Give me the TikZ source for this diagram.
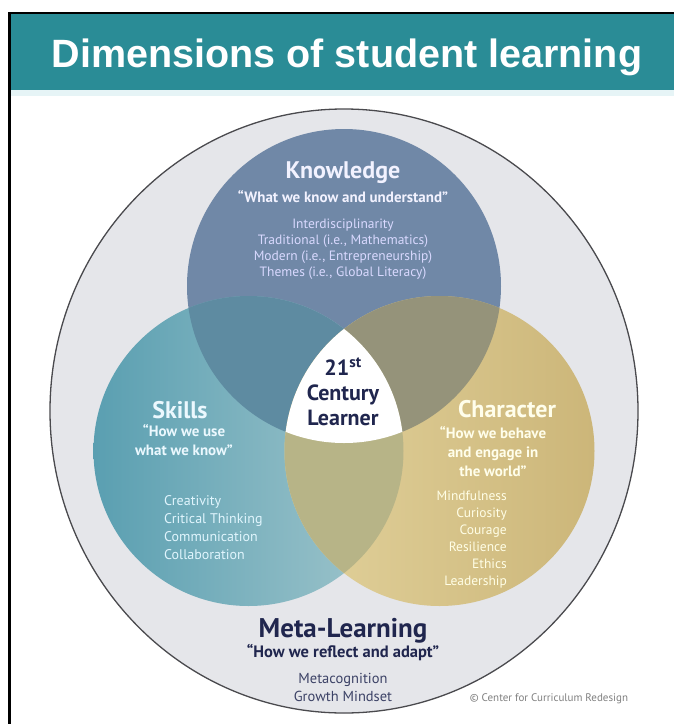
\documentclass[tikz,border=0pt]{standalone}
\usepackage{fontspec}
\setmainfont{PT Sans}
\newfontfamily\titlefont{Liberation Sans}
\usepackage{xcolor}

\definecolor{banner}{HTML}{2A8C96}
\definecolor{bannerlight}{HTML}{E6F4F6}
\definecolor{metafill}{HTML}{E5E6EA}
\definecolor{rimgray}{HTML}{4A4A4E}
\definecolor{knowfill}{HTML}{7088A7}
\definecolor{skillleft}{HTML}{5A9FB1}
\definecolor{skillright}{HTML}{A3C7CD}
\definecolor{charleft}{HTML}{E2D29C}
\definecolor{charright}{HTML}{CCB679}
\definecolor{ksfill}{HTML}{5E8BA1}
\definecolor{kcfill}{HTML}{95937A}
\definecolor{scfill}{HTML}{B7B487}
\definecolor{navytext}{HTML}{20264E}
\definecolor{metatext}{HTML}{3C4266}

\begin{document}
\begin{tikzpicture}[x=1pt, y=-1pt,
    head/.style={font=\bfseries\fontsize{24}{26}\selectfont, inner sep=0pt, anchor=base},
    saying/.style={font=\bfseries\fontsize{15}{19}\selectfont, inner sep=0pt, align=center, anchor=base},
    items/.style={font=\fontsize{13.5}{16}\selectfont, inner sep=0pt, anchor=base},
    hub/.style={font=\bfseries\fontsize{22}{25}\selectfont, inner sep=0pt, align=center, anchor=base, text=navytext}]

  \useasboundingbox (0,0) rectangle (674,724);
  \fill[white] (0,0) rectangle (674,724);

  % banner and frame
  \fill[banner] (9,13) rectangle (674,90);
  \fill[bannerlight] (9,90) rectangle (674,96);
  \draw[black, line width=2.2pt] (9.5,724) -- (9.5,13) -- (674,13);
  \node[font=\titlefont\bfseries\fontsize{39.5}{42}\selectfont, text=white, inner sep=0pt, anchor=base]
    (title) at (347,67) {Dimensions of student learning};

  % meta-learning disk
  \coordinate (mc) at (344,411);
  \filldraw[fill=metafill, draw=rimgray, line width=1.3pt] (mc) ellipse (294 and 302);

  % the three circles
  \coordinate (kc) at (344,286);
  \coordinate (sc) at (248.5,451);
  \coordinate (cc) at (439.5,451);
  \fill[knowfill] (kc) circle (157);
  \shade[left color=skillleft, right color=skillright] (sc) circle (155);
  \shade[left color=charleft, right color=charright] (cc) circle (155);

  % overlaps
  \begin{scope}
    \clip (kc) circle (157);
    \fill[ksfill] (sc) circle (155);
    \fill[kcfill] (cc) circle (155);
  \end{scope}
  \begin{scope}
    \clip (sc) circle (155);
    \fill[scfill] (cc) circle (155);
    \clip (cc) circle (155);
    \fill[white] (kc) circle (157);
  \end{scope}

  % knowledge (multi-line nodes sit on their last baseline)
  \node[head, text=white!95!blue] (know) at (343,178) {Knowledge};
  \node[saying, text=white!95!blue] (knowq) at (343,202) {“What we know and understand”};
  \node[items, align=center, text=white!85!blue] (knowl) at (343,276)
    {Interdisciplinarity\\
     Traditional (i.e., Mathematics)\\
     Modern (i.e., Entrepreneurship)\\
     Themes (i.e., Global Literacy)};

  % skills
  \node[head, text=white!92!cyan] (skill) at (180,418) {Skills};
  \node[saying, text=white!92!cyan] (skillq) at (184,455) {“How we use\\what we know”};
  \node[items, align=left, anchor=base west, text=white!88!cyan, font=\fontsize{14}{18}\selectfont]
    (skilll) at (164,559)
    {Creativity\\
     Critical Thinking\\
     Communication\\
     Collaboration};

  % character
  \node[head, text=white!92!yellow] (char) at (507,417) {Character};
  \node[saying, text=white!92!yellow] (charq) at (493,476) {“How we behave\\and engage in\\the world”};
  \node[items, align=right, anchor=base east, text=white!90!yellow, font=\fontsize{13.5}{17}\selectfont]
    (charl) at (507,585)
    {Mindfulness\\
     Curiosity\\
     Courage\\
     Resilience\\
     Ethics\\
     Leadership};

  % centre
  \node[hub] (learner) at (343,425) {21\textsuperscript{st}\\Century\\Learner};

  % meta-learning
  \node[head, text=navytext, font=\bfseries\fontsize{27}{28}\selectfont] (meta) at (343,637) {Meta-Learning};
  \node[saying, text=navytext, font=\bfseries\fontsize{16.5}{18}\selectfont] (metaq) at (343,657)
    {“How we reflect and adapt”};
  \node[items, align=center, text=metatext, font=\fontsize{14.5}{18}\selectfont] (metal) at (343,701)
    {Metacognition\\Growth Mindset};

  \node[font=\fontsize{11}{12}\selectfont, text=gray, inner sep=0pt, anchor=base] (ccr) at (549,701)
    {© Center for Curriculum Redesign};
\end{tikzpicture}
\end{document}
